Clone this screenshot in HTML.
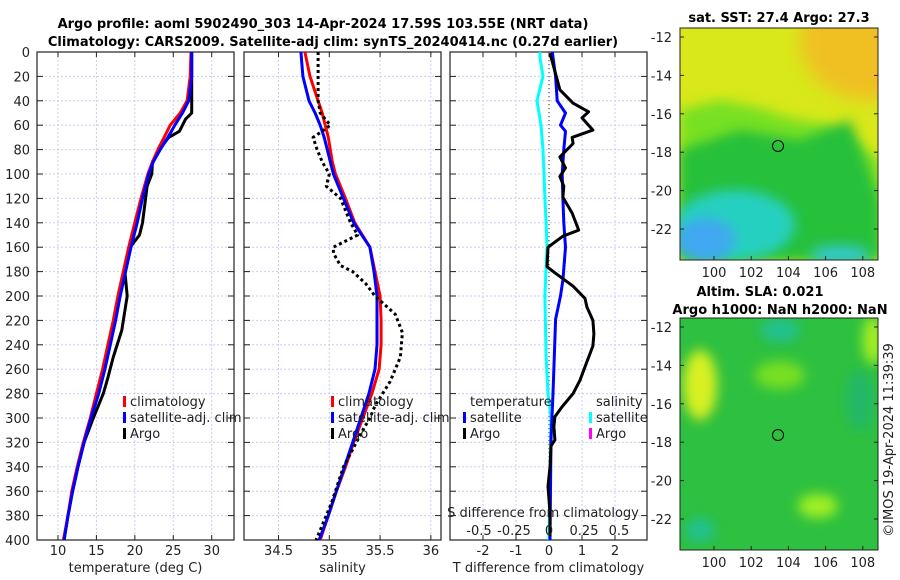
<!DOCTYPE html>
<html><head><meta charset="utf-8"><style>
html,body{margin:0;padding:0;background:#fff;}
svg{display:block;font-family:"DejaVu Sans","Liberation Sans",sans-serif;}
.t{font-size:13px;fill:#222;}
.b{font-size:13px;font-weight:bold;fill:#000;}
</style></head><body>
<svg id="fig" width="900" height="580" viewBox="0 0 900 580">
<defs>
<filter id="bl" x="-50%" y="-50%" width="200%" height="200%"><feGaussianBlur stdDeviation="9"/></filter>
<filter id="bl2" x="-50%" y="-50%" width="200%" height="200%"><feGaussianBlur stdDeviation="6"/></filter>
<clipPath id="c1"><rect x="680" y="28" width="198" height="232"/></clipPath>
<clipPath id="c2"><rect x="680" y="318" width="198" height="232"/></clipPath>
</defs>
<text class="b" x="323" y="28" text-anchor="middle">Argo profile: aoml 5902490_303 14-Apr-2024 17.59S 103.55E (NRT data)</text>
<text class="b" x="333" y="46" text-anchor="middle">Climatology: CARS2009. Satellite-adj clim: synTS_20240414.nc (0.27d earlier)</text>
<g id="plots"></g>
<!-- maps -->
<g>
<g clip-path="url(#c1)">
<rect x="680" y="28" width="198" height="232" fill="#d8e81a"/>
<ellipse cx="870" cy="40" rx="70" ry="60" fill="#f0c020" filter="url(#bl)"/>
<path d="M680,110 L720,100 L760,108 L790,118 L830,125 L880,160 L880,260 L680,260 Z" fill="#78e020" filter="url(#bl2)"/>
<path d="M680,150 L740,130 L800,140 L850,120 L880,200 L880,260 L680,260 Z" fill="#28c03a" filter="url(#bl2)"/>
<ellipse cx="735" cy="225" rx="60" ry="35" fill="#28d0c0" filter="url(#bl2)"/>
<ellipse cx="705" cy="240" rx="30" ry="22" fill="#40a8f0" filter="url(#bl2)"/>
<ellipse cx="840" cy="255" rx="30" ry="10" fill="#30c8c8" filter="url(#bl2)"/>
</g>
<rect x="680" y="28" width="198" height="232" fill="none" stroke="#222"/>
<circle cx="778" cy="146" r="5.5" fill="none" stroke="#000"/>
<text class="b" x="779" y="22" text-anchor="middle">sat. SST: 27.4 Argo: 27.3</text>
</g>
<g>
<g clip-path="url(#c2)">
<rect x="680" y="318" width="198" height="232" fill="#2ec040"/>
<ellipse cx="700" cy="385" rx="17" ry="35" fill="#d8f020" filter="url(#bl2)"/>
<ellipse cx="780" cy="375" rx="25" ry="14" fill="#78e020" filter="url(#bl2)"/>
<ellipse cx="873" cy="340" rx="10" ry="25" fill="#a8f020" filter="url(#bl2)"/>
<ellipse cx="818" cy="506" rx="20" ry="12" fill="#a0f020" filter="url(#bl2)"/>
<ellipse cx="780" cy="330" rx="20" ry="12" fill="#20c090" filter="url(#bl2)"/>
<ellipse cx="700" cy="530" rx="15" ry="12" fill="#20c090" filter="url(#bl2)"/>
<ellipse cx="860" cy="400" rx="14" ry="30" fill="#20b868" filter="url(#bl2)"/>
</g>
<rect x="680" y="318" width="198" height="232" fill="none" stroke="#222"/>
<circle cx="778" cy="435" r="5.5" fill="none" stroke="#000"/>
<text class="b" x="760" y="296" text-anchor="middle">Altim. SLA: 0.021</text>
<text class="b" x="780" y="314" text-anchor="middle">Argo h1000: NaN h2000: NaN</text>
</g>
<g id="mapticks"></g>
<text class="t" transform="translate(893,440) rotate(-90)" text-anchor="middle">©IMOS 19-Apr-2024 11:39:39</text>
</svg>
<script>
// depth axis
const depthTicks=[0,20,40,60,80,100,120,140,160,180,200,220,240,260,280,300,320,340,360,380,400];
// temperature panel
const tempTicks=[10,15,20,25,30];
const climDepth=[0,20,40,50,60,70,80,90,100,120,140,160,180,200,220,240,260,280,300,320,340,360,380,400];
const climTemp=[27.3,27.2,26.8,25.9,24.6,23.8,23.0,22.3,21.7,20.8,20.0,19.2,18.5,17.8,17.2,16.5,15.8,15.0,14.2,13.3,12.5,11.8,11.3,10.7];
const satTemp=[27.4,27.4,27.0,26.2,25.2,24.3,23.3,22.4,21.8,21.0,20.3,19.5,18.8,18.1,17.5,16.8,16.1,15.3,14.3,13.4,12.6,11.9,11.3,10.8];
const argoDepth=[0,20,40,50,55,65,70,80,90,100,110,120,140,150,160,180,200,228,250,269,280,300,320,340,360,380,400];
const argoTemp=[27.4,27.4,27.4,27.4,26.6,25.8,24.4,23.2,22.3,22.2,21.6,21.4,21.0,20.6,19.4,18.7,19.0,18.3,17.2,16.4,15.9,14.6,13.4,12.6,11.9,11.3,10.8];
// salinity panel
const salTicks=[34.5,35,35.5,36];
const climSal=[34.76,34.81,34.89,34.93,34.96,34.99,35.01,35.03,35.06,35.16,35.25,35.40,35.45,35.50,35.51,35.51,35.49,35.42,35.33,35.24,35.16,35.07,34.99,34.91];
const satSal=[34.72,34.74,34.80,34.86,34.91,34.95,34.98,35.01,35.04,35.14,35.24,35.40,35.44,35.47,35.47,35.47,35.45,35.39,35.31,35.23,35.15,35.07,34.99,34.90];
const argoSalDepth=[0,20,40,50,60,65,70,80,90,100,110,120,140,150,155,160,165,175,180,190,200,215,230,250,270,290,300,310,340,370,400];
const argoSal=[34.89,34.89,34.89,34.91,35.01,34.93,34.84,34.88,34.93,35.00,34.97,35.11,35.21,35.28,35.16,35.04,35.04,35.11,35.23,35.36,35.45,35.65,35.72,35.70,35.60,35.45,35.40,35.33,35.14,35.02,34.87];
// difference panel
const tdiffTicks=[-2,-1,0,1,2];
const sdiffTicks=[-0.5,-0.25,0,0.25,0.5];
const sdiffTickLabels=["-0.5","-0.25","0","0.25","0.5"];
const satDiffDepth=[0,20,40,50,60,65,80,100,120,140,160,187,200,219,280,318,400];
const satTdiff=[0.1,0.2,0.25,0.5,0.35,0.5,0.45,0.4,0.42,0.45,0.5,0.42,0.35,0.2,0.12,0.06,0.03];
const argoDiffDepth=[1,31,42,49,54,64,70,75,86,95,102,110,119,132,146,151,160,176,181,192,202,209,220,231,241,258,269,280,291,299,307,318,323,340,356,378,397];
const argoTdiff=[0.03,0.33,0.73,1.2,1.0,1.33,0.7,0.73,0.33,0.5,0.33,0.45,0.42,0.7,0.9,0.42,-0.03,-0.06,0.18,0.73,1.09,1.15,1.33,1.36,1.33,1.09,0.94,0.73,0.39,0.18,0.15,0.18,0.06,0.03,-0.03,0.03,0.03];
const cyanDepth=[0,5,20,40,60,80,100,120,140,160,176,200,250,280,300,400];
const satSdiff=[-0.064,-0.064,-0.043,-0.086,-0.057,-0.043,-0.036,-0.029,-0.021,-0.014,-0.021,-0.029,-0.021,-0.007,0.014,0.0];

const NS='http://www.w3.org/2000/svg';
const root=document.getElementById('plots');
function el(tag,attrs,parent){const e=document.createElementNS(NS,tag);for(const k in attrs)e.setAttribute(k,attrs[k]);(parent||root).appendChild(e);return e;}
const Y0=52,Y1=540;
const yD=d=>Y0+d*(Y1-Y0)/400;
function panel(x0,x1,xmin,xmax,ticks,labels,xlabel,name){
  const g=el('g',{});
  
  
  const xs=v=>x0+(v-xmin)*(x1-x0)/(xmax-xmin);
  ticks.forEach((t,i)=>{
    el('line',{x1:xs(t),x2:xs(t),y1:Y0,y2:Y1,stroke:'#c8cef0','stroke-width':1,'stroke-dasharray':'2,2'},g);
    el('line',{x1:xs(t),x2:xs(t),y1:Y1,y2:Y1-5,stroke:'#222'},g);
    el('line',{x1:xs(t),x2:xs(t),y1:Y0,y2:Y0+5,stroke:'#222'},g);
    if(labels){const tx=el('text',{x:xs(t),y:555,'text-anchor':'middle',class:'t'},g);tx.textContent=labels[i];
      
      }
  });
  depthTicks.forEach(d=>{
    el('line',{x1:x0,x2:x1,y1:yD(d),y2:yD(d),stroke:'#c8cef0','stroke-width':1,'stroke-dasharray':'2,2'},g);
    el('line',{x1:x0,x2:x0+6,y1:yD(d),y2:yD(d),stroke:'#222'},g);
    el('line',{x1:x1,x2:x1-6,y1:yD(d),y2:yD(d),stroke:'#222'},g);
  });
  el('rect',{x:x0,y:Y0,width:x1-x0,height:Y1-Y0,fill:'none',stroke:'#222','stroke-width':1.2},g);
  const xl=el('text',{x:(x0+x1)/2,y:572,'text-anchor':'middle',class:'t'},g);xl.textContent=xlabel;
  
  
  return {g,xs};
}
function line(p,vals,depths,color,name,dash){
  const pts=vals.map((v,i)=>p.xs(v).toFixed(1)+','+yD(depths[i]).toFixed(1)).join(' ');
  const a={points:pts,fill:'none',stroke:color,'stroke-width':3,'stroke-linejoin':'round'};
  if(dash)a['stroke-dasharray']=dash;
  const pl=el('polyline',a,p.g);
  
  
}
function legend(g,x,y,items){
  items.forEach((it,i)=>{
    if(it[1])el('rect',{x:x-7,y:y+i*16-10,width:3,height:11,fill:it[1]},g);
    const t=el('text',{x:x,y:y+i*16,class:'t'},g);t.textContent=it[0];
    
    
  });
}
// panel 1
const p1=panel(37,234,7.27,32.9,tempTicks,tempTicks.map(String),'temperature (deg C)','temperature-panel');
depthTicks.forEach(d=>{const t=el('text',{x:30,y:yD(d)+5,'text-anchor':'end',class:'t'});t.textContent=d;
  
  });
line(p1,argoTemp,argoDepth,'#000','argo-temperature-line');
line(p1,climTemp,climDepth,'#ff0000','climatology-temperature-line');
line(p1,satTemp,climDepth,'#0000ff','satellite-temperature-line');
legend(p1.g,130,406,[['climatology','#ff0000'],['satellite-adj. clim','#0000ff'],['Argo','#000']]);
// panel 2
const p2=panel(244,441,34.16,36.1,salTicks,salTicks.map(String),'salinity','salinity-panel');
line(p2,climSal,climDepth,'#ff0000','climatology-salinity-line');
line(p2,satSal,climDepth,'#0000ff','satellite-salinity-line');
line(p2,argoSal,argoSalDepth,'#000','argo-salinity-line','3,3');
legend(p2.g,338,406,[['climatology','#ff0000'],['satellite-adj. clim','#0000ff'],['Argo','#000']]);
// panel 3
const p3=panel(450,647,-3.0,2.97,tdiffTicks,tdiffTicks.map(String),'T difference from climatology','difference-panel');
el('line',{x1:p3.xs(0),x2:p3.xs(0),y1:Y0,y2:Y1,stroke:'#333','stroke-dasharray':'1,3'},p3.g);
const sx=v=>p3.xs(0)+v*140;
const cyPts=satSdiff.map((v,i)=>sx(v).toFixed(1)+','+yD(cyanDepth[i]).toFixed(1)).join(' ');
const cy=el('polyline',{points:cyPts,fill:'none',stroke:'#00ffff','stroke-width':3},p3.g);


line(p3,satTdiff,satDiffDepth,'#0000ff','satellite-temperature-diff-line');
line(p3,argoTdiff,argoDiffDepth,'#000','argo-temperature-diff-line');
legend(p3.g,470,406,[['temperature',null],['satellite','#0000ff'],['Argo','#000']]);
legend(p3.g,596,406,[['salinity',null],['satellite','#00ffff'],['Argo','#ff00ff']]);
const st=el('text',{x:543,y:517,'text-anchor':'middle',class:'t'},p3.g);st.textContent='S difference from climatology';


sdiffTicks.forEach((v,i)=>{const t=el('text',{x:sx(v),y:535,'text-anchor':'middle',class:'t'},p3.g);t.textContent=sdiffTickLabels[i];
  
  });
// map ticks
const mt=document.getElementById('mapticks');
const latTicks=[-12,-14,-16,-18,-20,-22];
const lonTicks=[100,102,104,106,108];
[[28,37],[318,327]].forEach(([top,y12])=>{
  latTicks.forEach(l=>{const y=y12+(-12-l)*19.2;
    el('line',{x1:680,x2:684,y1:y,y2:y,stroke:'#222'},mt);
    el('line',{x1:878,x2:874,y1:y,y2:y,stroke:'#222'},mt);
    const t=el('text',{x:672,y:y+5,'text-anchor':'end',class:'t'},mt);t.textContent=l;
    
    });
  lonTicks.forEach(l=>{const x=714+(l-100)*18.6;
    el('line',{x1:x,x2:x,y1:top+232,y2:top+228,stroke:'#222'},mt);
    const t=el('text',{x:x,y:top+249,'text-anchor':'middle',class:'t'},mt);t.textContent=l;
    
    });
});
</script>
</body></html>
